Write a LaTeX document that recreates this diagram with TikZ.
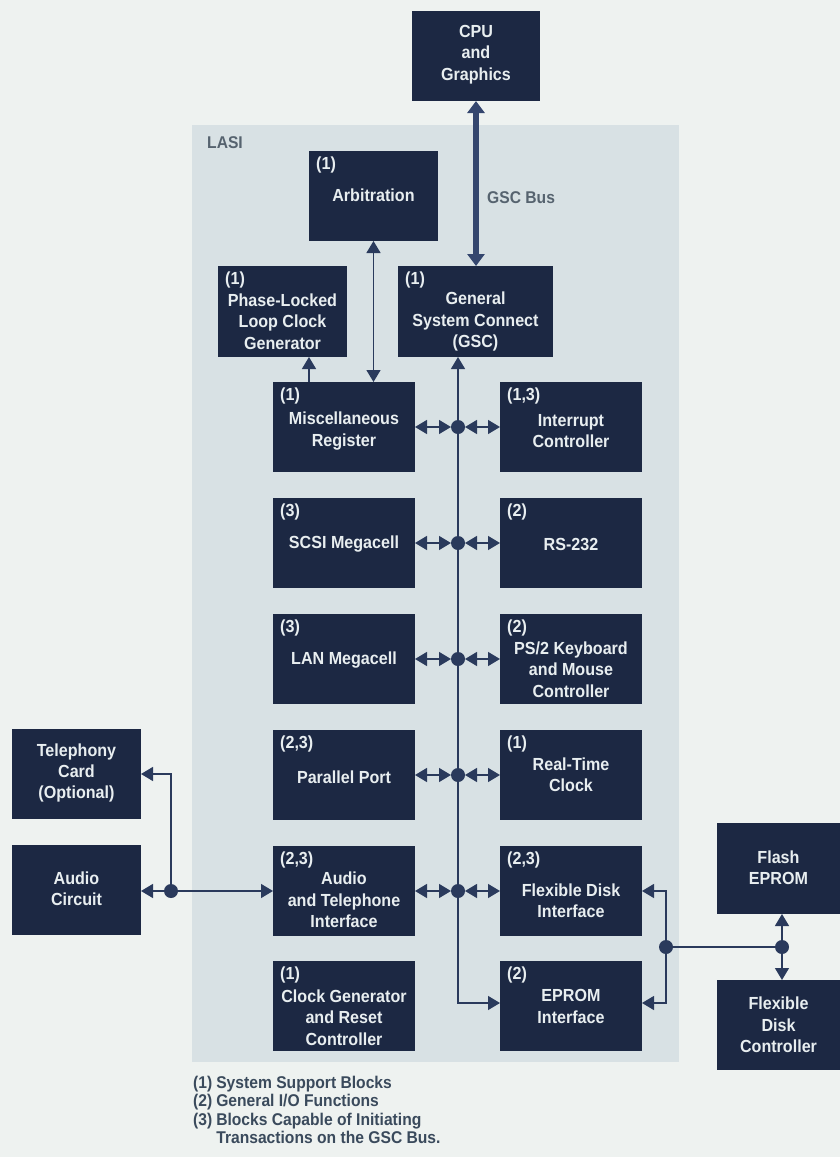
\documentclass[tikz,border=0pt]{standalone}
\usepackage{fontspec}
\setmainfont{Liberation Sans}[FakeStretch=0.92]
\usetikzlibrary{arrows.meta}
\definecolor{bgc}{HTML}{EEF2F0}
\definecolor{lasic}{HTML}{D8E1E4}
\definecolor{boxc}{HTML}{1C2843}
\definecolor{linec}{HTML}{2A3A5C}
\definecolor{txtc}{HTML}{E8EEF0}
\definecolor{grayt}{HTML}{56636F}
\definecolor{busc}{HTML}{34466E}
\definecolor{legc}{HTML}{3A4A5C}
\tikzset{
  blk/.style={fill=boxc, draw=none, inner sep=0pt, outer sep=0pt},
  btxt/.style={text=txtc, font=\fontsize{17.5}{21.3}\selectfont\bfseries, align=center, inner sep=0pt},
  tagl/.style={text=txtc, font=\fontsize{17.5}{18}\selectfont\bfseries, anchor=north west, inner sep=0pt},
  conn/.style={draw=linec, line width=1.3pt, >={Triangle[length=12pt,width=14pt]}},
  busarrow/.style={draw=busc, line width=5.5pt, >={Triangle[length=12pt,width=17pt]}},
  dotn/.style={circle, fill=linec, draw=none, minimum size=14pt, inner sep=0pt, outer sep=0pt},
  graylbl/.style={text=grayt, font=\fontsize{17}{18}\selectfont\bfseries, inner sep=0pt},
}
\begin{document}
\begin{tikzpicture}[x=1pt,y=-1pt]
\useasboundingbox (0,0) rectangle (840,1157);
\fill[bgc] (0,0) rectangle (840,1157);
\fill[lasic] (192,125) rectangle (679,1062);
\node[graylbl, anchor=west] (lasiL) at (207,143) {LASI};
\node[graylbl, anchor=west] (busL) at (487,198) {GSC Bus};

% boxes
\node[blk, minimum width=128pt, minimum height=90pt] (cpu) at (476,56) {};
\node[blk, minimum width=129pt, minimum height=90pt] (arb) at (373.5,196) {};
\node[blk, minimum width=129pt, minimum height=91pt] (pll) at (282.5,311.5) {};
\node[blk, minimum width=155pt, minimum height=91pt] (gsc) at (475.5,311.5) {};
\node[blk, minimum width=142pt, minimum height=90pt] (misc) at (344,427) {};
\node[blk, minimum width=142pt, minimum height=90pt] (intr) at (571,427) {};
\node[blk, minimum width=142pt, minimum height=90pt] (scsi) at (344,543) {};
\node[blk, minimum width=142pt, minimum height=90pt] (rs) at (571,543) {};
\node[blk, minimum width=142pt, minimum height=90pt] (lan) at (344,659) {};
\node[blk, minimum width=142pt, minimum height=90pt] (ps2) at (571,659) {};
\node[blk, minimum width=142pt, minimum height=90pt] (par) at (344,775) {};
\node[blk, minimum width=142pt, minimum height=90pt] (rtc) at (571,775) {};
\node[blk, minimum width=142pt, minimum height=90pt] (ati) at (344,891) {};
\node[blk, minimum width=142pt, minimum height=90pt] (flexi) at (571,891) {};
\node[blk, minimum width=142pt, minimum height=90pt] (clk) at (344,1006) {};
\node[blk, minimum width=142pt, minimum height=90pt] (eprom) at (571,1006) {};
\node[blk, minimum width=129pt, minimum height=90pt] (tele) at (76.5,774) {};
\node[blk, minimum width=129pt, minimum height=90pt] (audc) at (76.5,890) {};
\node[blk, minimum width=123pt, minimum height=91pt] (flash) at (778.5,868.5) {};
\node[blk, minimum width=123pt, minimum height=90pt] (fdc) at (778.5,1025) {};

% box texts
\node[btxt] (cpuT) at (476,54.5) {CPU\\and\\Graphics};
\node[btxt] (arbT) at (373.5,195) {Arbitration};
\node[btxt] (pllT) at (282.5,321.5) {Phase-Locked\\Loop Clock\\Generator};
\node[btxt] (gscT) at (475.5,321.5) {General\\System Connect\\(GSC)};
\node[btxt] (miscT) at (344,431) {Miscellaneous\\Register};
\node[btxt] (intrT) at (571,431) {Interrupt\\Controller};
\node[btxt] (scsiT) at (344,544) {SCSI Megacell};
\node[btxt] (rsT) at (571,544) {RS-232};
\node[btxt] (lanT) at (344,660) {LAN Megacell};
\node[btxt] (ps2T) at (571,669.5) {PS/2 Keyboard\\and Mouse\\Controller};
\node[btxt] (parT) at (344,777) {Parallel Port};
\node[btxt] (rtcT) at (571,775) {Real-Time\\Clock};
\node[btxt] (atiT) at (344,900) {Audio\\and Telephone\\Interface};
\node[btxt] (flexiT) at (571,900.5) {Flexible Disk\\Interface};
\node[btxt] (clkT) at (344,1017.5) {Clock Generator\\and Reset\\Controller};
\node[btxt] (epromT) at (571,1006.5) {EPROM\\Interface};
\node[btxt] (teleT) at (76.5,773) {Telephony\\Card\\(Optional)};
\node[btxt] (audcT) at (76.5,888.5) {Audio\\Circuit};
\node[btxt] (flashT) at (778.5,868) {Flash\\EPROM};
\node[btxt] (fdcT) at (778.5,1025) {Flexible\\Disk\\Controller};

% tags
\node[tagl] (arbG) at (316,157) {(1)};
\node[tagl] (pllG) at (225,272) {(1)};
\node[tagl] (gscG) at (405,272) {(1)};
\node[tagl] (miscG) at (280,388) {(1)};
\node[tagl] (intrG) at (507,388) {(1,3)};
\node[tagl] (scsiG) at (280,504) {(3)};
\node[tagl] (rsG) at (507,504) {(2)};
\node[tagl] (lanG) at (280,620) {(3)};
\node[tagl] (ps2G) at (507,620) {(2)};
\node[tagl] (parG) at (280,736) {(2,3)};
\node[tagl] (rtcG) at (507,736) {(1)};
\node[tagl] (atiG) at (280,852) {(2,3)};
\node[tagl] (flexiG) at (507,852) {(2,3)};
\node[tagl] (clkG) at (280,967) {(1)};
\node[tagl] (epromG) at (507,967) {(2)};

% GSC bus
\draw[busarrow, <->] (cpu.south) -- (cpu.south |- gsc.north);

% internal bus
\coordinate (busTop) at (458,357);
\coordinate (busBot) at (458,1003);
\draw[conn, <->] (busTop) -- (busBot) -- (busBot -| eprom.west);

% arbitration and PLL
\draw[conn, <->] (arb.south) -- (arb.south |- misc.north);
\coordinate (plx) at (309,370);
\draw[conn, ->] (misc.north -| plx) -- (pll.south -| plx);

% dots
\node[dotn] (d1) at (458,427) {};
\node[dotn] (d2) at (458,543) {};
\node[dotn] (d3) at (458,659) {};
\node[dotn] (d4) at (458,775) {};
\node[dotn] (d5) at (458,891) {};
\node[dotn] (ld) at (171,891) {};
\node[dotn] (rd1) at (666,947) {};
\node[dotn] (rd2) at (782,947) {};

\draw[conn, <->] (misc.east) -- (d1.west);
\draw[conn, <->] (d1.east) -- (intr.west);
\draw[conn, <->] (scsi.east) -- (d2.west);
\draw[conn, <->] (d2.east) -- (rs.west);
\draw[conn, <->] (lan.east) -- (d3.west);
\draw[conn, <->] (d3.east) -- (ps2.west);
\draw[conn, <->] (par.east) -- (d4.west);
\draw[conn, <->] (d4.east) -- (rtc.west);
\draw[conn, <->] (ati.east) -- (d5.west);
\draw[conn, <->] (d5.east) -- (flexi.west);

% left
\draw[conn, ->] (ld.west) -- (audc.east |- ld);
\draw[conn, ->] (ld.east) -- (ati.west |- ld);
\draw[conn, ->] (ld.north) |- (tele.east);

% right
\draw[conn] (rd1.east) -- (rd2.west);
\draw[conn, ->] (rd1.north) |- (flexi.east);
\draw[conn, ->] (rd1.south) |- (eprom.east |- busBot);
\draw[conn, ->] (rd2.north) -- (rd2.north |- flash.south);
\draw[conn, ->] (rd2.south) -- (rd2.south |- fdc.north);

% legend
\node[anchor=north west, inner sep=0pt, text=legc, font=\fontsize{17}{18.5}\selectfont\bfseries] (leg) at (193,1075)
 {\begin{tabular}{@{}l@{\hspace{4pt}}l@{}}
 (1) & System Support Blocks\\
 (2) & General I/O Functions\\
 (3) & Blocks Capable of Initiating\\
     & Transactions on the GSC Bus.
 \end{tabular}};
\end{tikzpicture}
\end{document}
